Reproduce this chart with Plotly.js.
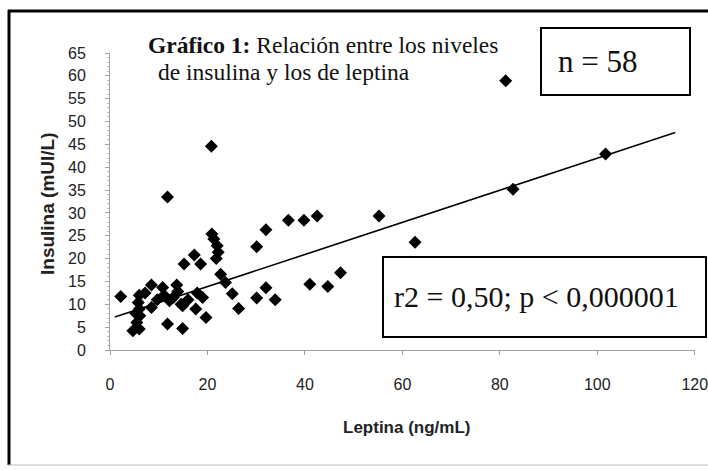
<!DOCTYPE html>
<html><head><meta charset="utf-8">
<script src="https://cdn.plot.ly/plotly-3.0.1.min.js"></script>
<style>html,body{margin:0;padding:0;background:#fff}</style>
</head><body><div id="chart" style="width:708px;height:470px"></div>
<script>
// Data (Leptina ng/mL vs Insulina mUI/L)
const leptina = [2.2, 4.7, 6.0, 5.5, 6.1, 6.0, 5.8, 6.0, 8.5, 8.5, 10.8, 11.8, 11.8, 12.2, 13.7, 13.9, 14.6, 14.9, 14.9, 15.2,
  17.3, 18.6, 17.6, 19.0, 19.7, 20.8, 20.9, 21.3, 22.0, 22.2, 22.7, 23.7, 25.1, 26.4, 30.1, 32.0, 30.1, 32.0, 33.9, 36.6,
  39.8, 42.5, 41.0, 44.7, 47.3, 55.2, 62.6, 81.2, 82.7, 101.7, 13.0, 7.2, 9.7, 16.0, 5.3, 21.8, 11.1, 17.9];
const insulina = [11.7, 4.2, 4.6, 6.0, 7.5, 9.0, 10.4, 12.0, 14.2, 9.3, 13.7, 33.5, 5.7, 10.8, 14.2, 12.8, 10.0, 4.7, 9.7, 18.8,
  20.8, 18.8, 9.0, 11.5, 7.1, 44.6, 25.4, 24.3, 22.8, 21.4, 16.6, 14.8, 12.3, 9.1, 22.6, 26.3, 11.4, 13.6, 11.0, 28.4,
  28.4, 29.3, 14.4, 13.9, 16.9, 29.3, 23.6, 58.9, 35.2, 42.9, 11.5, 12.5, 11.0, 11.0, 8.0, 20.0, 12.0, 12.5];
const trendLeptina = [1.0, 116];
const trendInsulina = [7.2, 47.6];
const xTicks = [0, 20, 40, 60, 80, 100, 120];
const yTicks = [0, 5, 10, 15, 20, 25, 30, 35, 40, 45, 50, 55, 60, 65];
const titleLine1 = '<b>Gráfico 1:</b> Relación entre los niveles';
const titleLine2 = 'de insulina y los de leptina';
const nText = 'n = 58';
const statText = 'r2 = 0,50; p < 0,000001';
const xTitle = 'Leptina (ng/mL)';
const yTitle = 'Insulina (mUI/L)';

// pixel -> paper helpers for decorations
const L = 110, T = 53, W = 585, H = 297;
const px = v => (v - L) / W;
const py = v => (T + H - v) / H;

const traces = [
  {x: leptina, y: insulina, mode: 'markers', type: 'scatter',
   marker: {symbol: 'diamond', size: 10, color: '#000'}, cliponaxis: false, hoverinfo: 'x+y'},
  {x: trendLeptina, y: trendInsulina, mode: 'lines', type: 'scatter',
   line: {color: '#000', width: 1.6}, hoverinfo: 'skip'}
];

const sans = 'Liberation Sans, Arial, sans-serif';
const serif = 'Liberation Serif, Times New Roman, serif';

const layout = {
  width: 708, height: 470,
  margin: {l: L, r: 708 - L - W, t: T, b: 470 - T - H, pad: 0},
  showlegend: false,
  paper_bgcolor: '#fff', plot_bgcolor: '#fff',
  xaxis: {range: [0, 120.05], tickvals: xTicks, ticktext: xTicks.map(String), showgrid: false, zeroline: false,
    showline: true, linecolor: '#a0a0a0', linewidth: 1, ticks: 'outside', ticklen: 4, tickcolor: '#a0a0a0',
    ticklabeloverflow: 'allow', automargin: false,
    ticklabelstandoff: 16, tickfont: {family: sans, size: 16, color: '#222'}, fixedrange: true},
  yaxis: {range: [0, 65], tickvals: yTicks, ticktext: yTicks.map(String), showgrid: false, zeroline: false,
    showline: true, linecolor: '#a0a0a0', linewidth: 1, ticks: 'outside', ticklen: 4, tickcolor: '#a0a0a0',
    minor: {dtick: 1, ticks: 'outside', ticklen: 2, tickcolor: '#c0c0c0', showgrid: false},
    ticklabelstandoff: 16, tickfont: {family: sans, size: 16, color: '#222'}, fixedrange: true},
  annotations: [
    {text: titleLine1, xref: 'paper', yref: 'paper', x: px(146), y: py(45), xanchor: 'left', yanchor: 'middle',
     showarrow: false, font: {family: serif, size: 23.5, color: '#111'}},
    {text: titleLine2, xref: 'paper', yref: 'paper', x: px(156), y: py(72), xanchor: 'left', yanchor: 'middle',
     showarrow: false, font: {family: serif, size: 23.5, color: '#111'}},
    {text: nText, xref: 'paper', yref: 'paper', x: px(556), y: py(62), xanchor: 'left', yanchor: 'middle',
     showarrow: false, font: {family: serif, size: 31, color: '#111'}},
    {text: statText, xref: 'paper', yref: 'paper', x: px(392), y: py(296), xanchor: 'left', yanchor: 'middle',
     showarrow: false, font: {family: serif, size: 30, color: '#111'}},
    {text: '<b>' + xTitle + '</b>', xref: 'paper', yref: 'paper', x: px(406), y: py(427), xanchor: 'center', yanchor: 'middle',
     showarrow: false, font: {family: sans, size: 17, color: '#222'}},
    {text: '<b>' + yTitle + '</b>', xref: 'paper', yref: 'paper', x: px(47), y: py(204), xanchor: 'center', yanchor: 'middle',
     textangle: -90, showarrow: false, font: {family: sans, size: 19, color: '#222'}}
  ],
  shapes: [
    // outer frame
    {type: 'line', xref: 'paper', yref: 'paper', x0: px(9), x1: px(9), y0: py(10), y1: py(465), line: {color: '#000', width: 3}},
    {type: 'line', xref: 'paper', yref: 'paper', x0: px(8), x1: px(708), y0: py(11), y1: py(11), line: {color: '#000', width: 3}},
    {type: 'line', xref: 'paper', yref: 'paper', x0: px(8), x1: px(708), y0: py(465), y1: py(465), line: {color: '#bbb', width: 1}},
    // n box
    {type: 'rect', xref: 'paper', yref: 'paper', x0: px(541), x1: px(690), y0: py(28), y1: py(95), line: {color: '#000', width: 2}},
    // stats box
    {type: 'rect', xref: 'paper', yref: 'paper', x0: px(383), x1: px(706), y0: py(257), y1: py(337), line: {color: '#000', width: 2}}
  ]
};

Plotly.newPlot('chart', traces, layout, {displayModeBar: false, staticPlot: true});
</script>
</body></html>
